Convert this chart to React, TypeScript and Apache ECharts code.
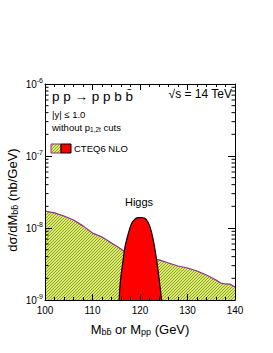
import React, { useEffect, useRef } from "react";
import * as echarts from "echarts";

const FONT = "'Liberation Sans', Arial, Helvetica, sans-serif";

// x axis (invariant mass, GeV)
const xMin = 100;
const xMax = 140;
const xInterval = 10;
// y axis (log), decades
const yMin = 1e-9;
const yMax = 1e-6;
const logDecades = [1e-9, 1e-8, 1e-7];
const logMultipliers = [2, 3, 4, 5, 6, 7, 8, 9];

// background b b-bar continuum
const bgMass = [100, 102, 104, 106, 108, 110, 112, 114, 116, 118, 120, 122, 124, 126, 128, 130, 132, 134, 136, 137, 138, 139, 140];
const bgXsec = [1.72e-8, 1.62e-8, 1.47e-8, 1.29e-8, 1.07e-8, 8.5e-9, 7.5e-9, 6.2e-9, 5.1e-9, 4.1e-9, 4.0e-9, 3.8e-9, 3.6e-9, 3.27e-9, 2.97e-9, 2.78e-9, 2.53e-9, 2.22e-9, 1.9e-9, 1.72e-9, 1.67e-9, 1.66e-9, 1.52e-9];

// Higgs signal peak
const higgsMass = [115.6, 115.9, 116.35, 116.85, 117.55, 118.25, 118.95, 119.6, 120.3, 120.9, 121.4, 122.1, 122.8, 123.5, 124.05, 124.55];
const higgsXsec = [1e-9, 1.9e-9, 3.2e-9, 5.5e-9, 8.4e-9, 1.16e-8, 1.33e-8, 1.39e-8, 1.4e-8, 1.37e-8, 1.29e-8, 1.04e-8, 6.8e-9, 3.6e-9, 1.9e-9, 1e-9];

function makeHatch(): any {
  const c = document.createElement("canvas");
  const s = 3;
  c.width = s;
  c.height = s;
  const ctx = c.getContext("2d")!;
  ctx.fillStyle = "#dfe86c";
  ctx.fillRect(0, 0, s, s);
  ctx.strokeStyle = "#7aa22c";
  ctx.lineWidth = 0.9;
  ctx.beginPath();
  ctx.moveTo(-1, s + 1);
  ctx.lineTo(s + 1, -1);
  ctx.moveTo(-1, 1);
  ctx.lineTo(1, -1);
  ctx.moveTo(s - 1, s + 1);
  ctx.lineTo(s + 1, s - 1);
  ctx.stroke();
  return { image: c.toDataURL(), repeat: "repeat", imageWidth: s, imageHeight: s };
}

export default function App() {
  const ref = useRef<HTMLDivElement>(null);

  useEffect(() => {
    if (!ref.current) return;
    const chart = echarts.init(ref.current, undefined, { renderer: "svg" });
    const hatch = makeHatch();
    const hatch2 = makeHatch();

    const minorTickValues: number[] = [];
    logDecades.forEach((d) => logMultipliers.forEach((m) => minorTickValues.push(d * m)));

    const axisCommon = {
      axisLine: { show: true, onZero: false, lineStyle: { color: "#000", width: 1 } },
      splitLine: { show: false },
      z: 5,
    };

    const option: any = {
      animation: false,
      textStyle: { fontFamily: FONT },
      grid: { left: 45, right: 38, top: 84, bottom: 53, show: false },
      xAxis: [
        {
          ...axisCommon,
          type: "value",
          min: xMin,
          max: xMax,
          interval: xInterval,
          position: "bottom",
          axisTick: { show: true, inside: true, length: 6, lineStyle: { color: "#000" } },
          minorTick: { show: true, splitNumber: 5, length: 3, lineStyle: { color: "#000" } },
          axisLabel: { color: "#000", fontSize: 10, fontFamily: FONT, margin: 5 },
        },
        {
          ...axisCommon,
          type: "value",
          min: xMin,
          max: xMax,
          interval: xInterval,
          position: "top",
          axisTick: { show: true, inside: true, length: 6, lineStyle: { color: "#000" } },
          minorTick: { show: true, splitNumber: 5, length: 3, lineStyle: { color: "#000" } },
          axisLabel: { show: false },
        },
      ],
      yAxis: [
        {
          ...axisCommon,
          type: "log",
          logBase: 10,
          min: yMin,
          max: yMax,
          position: "left",
          axisTick: { show: true, inside: true, length: 7, lineStyle: { color: "#000" } },
          axisLabel: {
            margin: 2,
            formatter: (v: number) => `{b|10}{s|${Math.round(Math.log10(v))}}`,
            rich: {
              b: { fontSize: 10, fontFamily: FONT, color: "#000" },
              s: { fontSize: 7, fontFamily: FONT, color: "#000", padding: [0, 0, 7, 0] },
            },
          },
        },
        {
          ...axisCommon,
          type: "log",
          logBase: 10,
          min: yMin,
          max: yMax,
          position: "right",
          axisTick: { show: true, inside: true, length: 7, lineStyle: { color: "#000" } },
          axisLabel: { show: false },
        },
      ],
      series: [
        {
          type: "line",
          xAxisIndex: 0,
          yAxisIndex: 0,
          data: bgMass.map((m, i) => [m, bgXsec[i]]),
          symbol: "none",
          lineStyle: { color: "#8b2f8b", width: 1.2 },
          areaStyle: { color: hatch, opacity: 1, origin: "start" },
          z: 2,
        },
        {
          type: "line",
          xAxisIndex: 0,
          yAxisIndex: 0,
          data: higgsMass.map((m, i) => [m, higgsXsec[i]]),
          symbol: "none",
          smooth: 0.35,
          lineStyle: { color: "#000", width: 1.2 },
          areaStyle: { color: "#ff0000", opacity: 1, origin: "start" },
          z: 3,
        },
        {
          type: "custom",
          xAxisIndex: 0,
          yAxisIndex: 0,
          silent: true,
          clip: false,
          z: 10,
          data: minorTickValues.map((v) => [xMin, v]),
          encode: { x: 0, y: 1 },
          renderItem: (_p: any, api: any) => {
            const v = api.value(1);
            const l = api.coord([xMin, v]);
            const r = api.coord([xMax, v]);
            return {
              type: "group",
              children: [
                { type: "line", shape: { x1: l[0], y1: l[1], x2: l[0] + 3.5, y2: l[1] }, style: { stroke: "#000", lineWidth: 1 } },
                { type: "line", shape: { x1: r[0] - 3.5, y1: r[1], x2: r[0], y2: r[1] }, style: { stroke: "#000", lineWidth: 1 } },
              ],
            };
          },
        },
      ],
      graphic: [
        {
          type: "text",
          x: 52,
          y: 96,
          style: { text: "p p \u2192 p p b b\u0304", fontSize: 13.5, fontFamily: FONT, fill: "#000", align: "left", verticalAlign: "middle" },
        },
        {
          type: "text",
          x: 232,
          y: 94,
          style: { text: "\u221As = 14 TeV", fontSize: 12, fontFamily: FONT, fill: "#000", align: "right", verticalAlign: "middle" },
        },
        {
          type: "text",
          x: 52,
          y: 114,
          style: { text: "|y| \u2264 1.0", fontSize: 9.5, fontFamily: FONT, fill: "#000", align: "left", verticalAlign: "middle" },
        },
        {
          type: "text",
          x: 52,
          y: 127,
          style: {
            text: "{m|without p}{s|1,2t}{m| cuts}",
            fill: "#000",
            align: "left",
            verticalAlign: "middle",
            rich: {
              m: { fontSize: 9.5, fontFamily: FONT, fill: "#000" },
              s: { fontSize: 6.5, fontFamily: FONT, fill: "#000", padding: [5, 0, 0, 0] },
            },
          },
        },
        { type: "rect", shape: { x: 51, y: 144, width: 10, height: 9 }, style: { fill: hatch2, stroke: "#8b2f8b", lineWidth: 1 } },
        { type: "rect", shape: { x: 61, y: 144, width: 10, height: 9 }, style: { fill: "#ff0000", stroke: "#000", lineWidth: 1 } },
        {
          type: "text",
          x: 74,
          y: 148.5,
          style: { text: "CTEQ6 NLO", fontSize: 9.5, fontFamily: FONT, fill: "#000", align: "left", verticalAlign: "middle" },
        },
        {
          type: "text",
          x: 139,
          y: 202,
          style: { text: "Higgs", fontSize: 11, fontFamily: FONT, fill: "#000", align: "center", verticalAlign: "middle" },
        },
        {
          type: "text",
          x: 140,
          y: 329,
          style: {
            text: "{m|M}{s|bb\u0304}{m| or M}{s|pp}{m| (GeV)}",
            fill: "#000",
            align: "center",
            verticalAlign: "middle",
            rich: {
              m: { fontSize: 13, fontFamily: FONT, fill: "#000" },
              s: { fontSize: 9, fontFamily: FONT, fill: "#000", padding: [6, 0, 0, 0] },
            },
          },
        },
        {
          type: "text",
          x: 12,
          y: 200,
          rotation: Math.PI / 2,
          style: {
            text: "{m|d\u03C3/dM}{s|bb\u0304}{m| (nb/GeV)}",
            fill: "#000",
            align: "center",
            verticalAlign: "middle",
            rich: {
              m: { fontSize: 13, fontFamily: FONT, fill: "#000" },
              s: { fontSize: 9, fontFamily: FONT, fill: "#000", padding: [6, 0, 0, 0] },
            },
          },
        },
      ],
    };

    chart.setOption(option);
    return () => chart.dispose();
  }, []);

  return (
    <div
      ref={ref}
      style={{ position: "fixed", left: 0, top: 0, width: 273, height: 353, background: "#fff" }}
    />
  );
}
